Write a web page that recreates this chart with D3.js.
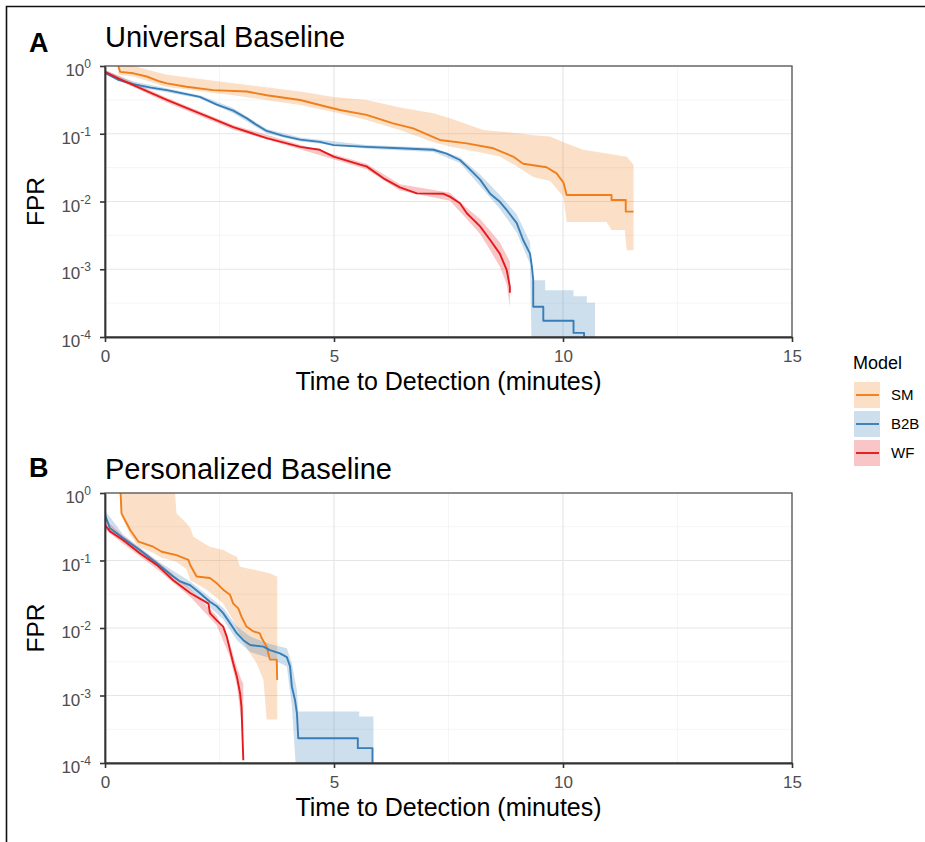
<!DOCTYPE html>
<html><head><meta charset="utf-8">
<script src="https://cdn.jsdelivr.net/npm/d3@7"></script>
<style>body{margin:0;background:#fff}svg{display:block}text{font-family:"Liberation Sans",Arial,Helvetica,sans-serif}</style>
</head><body><svg id="c" width="925" height="842"></svg>
<script>
// ---------- data ----------
const xTicks = [0, 5, 10, 15];
const xMinor = [2.5, 7.5, 12.5];
const yTicks = [1, 0.1, 0.01, 0.001, 0.0001];
const yExps = ["0", "-1", "-2", "-3", "-4"];
const yMinor = [0.316, 0.0316, 0.00316, 0.000316];
const models = ["SM", "B2B", "WF"];
const colors = ["#F07F1A", "#377EB8", "#E41A1C"];
const panelLabels = ["A", "B"];
const panelTitles = ["Universal Baseline", "Personalized Baseline"];
const xTitle = "Time to Detection (minutes)";
const yTitle = "FPR";
const legendTitle = "Model";

// Panel A — SM
const aSM_t = [0.29,0.33,0.62,0.91,1.20,1.35,1.78,2.36,3.09,3.53,4.26,4.84,5.13,5.71,6.29,6.73,7.31,7.90,8.48,8.91,9.13,9.64,9.86,10.01,10.08,11.06,11.06,11.37,11.37,11.54];
const aSM_v = [1.0,0.82,0.78,0.70,0.59,0.555,0.495,0.44,0.42,0.37,0.315,0.25,0.224,0.19,0.142,0.12,0.081,0.072,0.061,0.046,0.036,0.032,0.026,0.019,0.0125,0.0125,0.0105,0.0105,0.0071,0.0071];
const aSM_bt = [0.29,0.62,1.35,2.80,4.26,4.99,5.71,6.44,7.17,7.53,8.26,8.62,8.99,9.35,9.72,10.01,10.08,10.44,10.95,11.06,11.35,11.39,11.54];
const aSM_hi = [1,1,0.74,0.555,0.42,0.35,0.315,0.245,0.20,0.17,0.114,0.108,0.102,0.095,0.091,0.075,0.072,0.058,0.051,0.05,0.046,0.046,0.035];
const aSM_lo = [0.75,0.70,0.49,0.37,0.265,0.21,0.16,0.114,0.075,0.065,0.052,0.046,0.033,0.023,0.02,0.0118,0.005,0.005,0.005,0.0038,0.0038,0.0019,0.0019];
// Panel A — B2B
const aB2B_t = [0,0.30,0.62,1.00,1.35,2.07,2.44,2.80,3.09,3.31,3.53,3.89,4.26,4.69,4.99,5.71,6.44,7.17,7.46,7.75,7.90,8.19,8.41,8.62,8.77,8.99,9.13,9.28,9.32,9.35,9.35,9.57,9.57,10.23,10.23,10.46,10.46];
const aB2B_v = [0.80,0.62,0.54,0.48,0.44,0.35,0.27,0.22,0.17,0.135,0.11,0.093,0.082,0.076,0.068,0.064,0.061,0.058,0.051,0.041,0.033,0.021,0.013,0.0099,0.0075,0.0048,0.0027,0.0017,0.0011,0.00069,0.00028,0.00028,0.000174,0.000174,0.000115,0.000115,0.00009];
const aB2B_bt = [0,0.62,1.35,2.07,2.80,3.53,4.26,5.71,7.17,7.75,8.19,8.62,8.99,9.28,9.32,9.61,9.61,10.23,10.23,10.52,10.52,10.70];
const aB2B_hi = [0.86,0.59,0.47,0.37,0.24,0.118,0.088,0.068,0.062,0.045,0.025,0.0125,0.0065,0.0025,0.00069,0.00069,0.00049,0.00049,0.0004,0.0004,0.00032,0.00032];
const aB2B_lo = [0.75,0.50,0.41,0.33,0.20,0.101,0.077,0.06,0.054,0.037,0.017,0.0078,0.0035,0.0012,0.00005,0.00005,0.00005,0.00005,0.00005,0.00005,0.00005,0.00005];
// Panel A — WF
const aWF_t = [0,0.30,0.62,1.00,1.35,2.07,2.80,3.24,3.53,3.97,4.26,4.69,4.99,5.57,5.71,6.08,6.44,6.81,7.39,7.53,7.75,7.90,8.19,8.41,8.62,8.77,8.84,8.84];
const aWF_v = [0.82,0.65,0.52,0.40,0.315,0.20,0.125,0.10,0.086,0.072,0.064,0.058,0.046,0.035,0.033,0.022,0.0162,0.0132,0.0130,0.0118,0.0094,0.0067,0.0043,0.0027,0.0017,0.00098,0.00055,0.00045];
const aWF_bt = [0,1.35,2.80,4.26,5.71,6.44,7.53,7.90,8.19,8.41,8.62,8.77,8.84];
const aWF_hi = [0.88,0.34,0.135,0.069,0.036,0.018,0.0135,0.008,0.0055,0.0037,0.0025,0.0016,0.0013];
const aWF_lo = [0.76,0.29,0.115,0.059,0.030,0.0145,0.0103,0.0055,0.0033,0.0019,0.0011,0.0006,0.00028];

// Panel B — SM
const bSM_t = [0.34,0.36,0.55,0.73,1.05,1.24,1.56,1.82,1.86,2.00,2.29,2.44,2.58,2.73,2.80,2.91,2.98,3.09,3.24,3.38,3.42,3.53,3.60,3.75,3.76];
const bSM_v = [1.0,0.50,0.283,0.19,0.16,0.135,0.12,0.102,0.086,0.058,0.055,0.046,0.037,0.031,0.023,0.0195,0.0147,0.0105,0.0089,0.0083,0.0071,0.0053,0.0034,0.0034,0.0017];
const bSM_bt = [0.34,0.36,0.55,0.73,1.05,1.24,1.53,1.56,1.78,1.86,1.93,2.22,2.29,2.58,2.80,2.88,2.95,3.17,3.31,3.46,3.53,3.60,3.75,3.76];
const bSM_hi = [1,1,1,1,1,1,1,0.50,0.355,0.30,0.225,0.17,0.16,0.143,0.12,0.114,0.081,0.075,0.072,0.068,0.066,0.065,0.058,0.058];
const bSM_lo = [0.9,0.45,0.24,0.16,0.13,0.11,0.097,0.095,0.075,0.051,0.048,0.037,0.034,0.023,0.013,0.010,0.0074,0.0042,0.003,0.0017,0.00044,0.00044,0.00044,0.00044];
// Panel B — B2B
const bB2B_t = [0,0.11,0.40,0.76,1.13,1.49,1.64,1.86,2.07,2.29,2.44,2.58,2.73,2.88,3.02,3.17,3.46,3.60,3.82,3.97,4.04,4.08,4.15,4.19,4.22,5.52,5.52,5.84,5.84];
const bB2B_v = [0.47,0.30,0.213,0.143,0.091,0.058,0.049,0.043,0.033,0.0245,0.021,0.0166,0.0118,0.0083,0.0066,0.0056,0.0053,0.0047,0.0042,0.0037,0.0027,0.00135,0.00085,0.00055,0.000233,0.000233,0.000166,0.000166,0.00009];
const bB2B_bt = [0,0.40,1.13,1.86,2.58,2.88,3.17,3.60,3.97,4.08,4.19,4.22,5.55,5.55,5.86];
const bB2B_hi = [0.55,0.24,0.10,0.049,0.020,0.0105,0.0075,0.0058,0.0050,0.0030,0.0012,0.00058,0.00058,0.00049,0.00049];
const bB2B_lo = [0.40,0.19,0.082,0.037,0.0135,0.0066,0.0044,0.0036,0.0027,0.0007,0.00005,0.00005,0.00005,0.00005,0.00005];
// Panel B — WF
const bWF_t = [0,0.11,0.40,0.76,1.13,1.49,1.86,2.26,2.29,2.44,2.58,2.66,2.73,2.80,2.88,2.95,2.98,3.02];
const bWF_v = [0.336,0.27,0.20,0.128,0.086,0.051,0.033,0.023,0.0166,0.013,0.0105,0.0074,0.0047,0.003,0.0019,0.00107,0.00068,0.00011];
const bWF_bt = [0,0.40,1.13,1.86,2.44,2.73,2.88,2.98,3.02];
const bWF_hi = [0.40,0.23,0.098,0.038,0.015,0.0058,0.0026,0.0017,0.0015];
const bWF_lo = [0.29,0.175,0.075,0.029,0.011,0.0037,0.0014,0.0004,0.0003];

// ---------- build ----------
const zip = (t, v) => t.map((d, i) => [d, v[i]]);
const zip3 = (t, lo, hi) => t.map((d, i) => [d, lo[i], hi[i]]);
const panels = [
  {top: 66, bottom: 337, series: [
    {line: zip(aSM_t, aSM_v), band: zip3(aSM_bt, aSM_lo, aSM_hi)},
    {line: zip(aB2B_t, aB2B_v), band: zip3(aB2B_bt, aB2B_lo, aB2B_hi)},
    {line: zip(aWF_t, aWF_v), band: zip3(aWF_bt, aWF_lo, aWF_hi)}]},
  {top: 493, bottom: 763, series: [
    {line: zip(bSM_t, bSM_v), band: zip3(bSM_bt, bSM_lo, bSM_hi)},
    {line: zip(bB2B_t, bB2B_v), band: zip3(bB2B_bt, bB2B_lo, bB2B_hi)},
    {line: zip(bWF_t, bWF_v), band: zip3(bWF_bt, bWF_lo, bWF_hi)}]}
];

const svg = d3.select("#c");
svg.append("rect").attr("width", 925).attr("height", 842).attr("fill", "#fff");
svg.append("path").attr("d", "M6.5,842V6.5H925").attr("fill", "none").attr("stroke", "#111").attr("stroke-width", 1.6);

const L = 105, R = 792;
const x = d3.scaleLinear().domain([0, 15]).range([L, R]);

panels.forEach((p, pi) => {
  const y = d3.scaleLog().domain([1e-4, 1]).range([p.bottom, p.top]);
  const g = svg.append("g");
  const cid = "clip" + pi;
  svg.append("clipPath").attr("id", cid).append("rect")
    .attr("x", L).attr("y", p.top).attr("width", R - L).attr("height", p.bottom - p.top);

  // grid
  g.selectAll(".gxm").data(xMinor).join("line").attr("x1", d => x(d)).attr("x2", d => x(d))
    .attr("y1", p.top).attr("y2", p.bottom).attr("stroke", "#f2f2f2").attr("stroke-width", 0.8);
  g.selectAll(".gym").data(yMinor).join("line").attr("y1", d => y(d)).attr("y2", d => y(d))
    .attr("x1", L).attr("x2", R).attr("stroke", "#f2f2f2").attr("stroke-width", 0.8);
  g.selectAll(".gx").data(xTicks).join("line").attr("x1", d => x(d)).attr("x2", d => x(d))
    .attr("y1", p.top).attr("y2", p.bottom).attr("stroke", "#e6e6e6").attr("stroke-width", 1.2);
  g.selectAll(".gy").data(yTicks).join("line").attr("y1", d => y(d)).attr("y2", d => y(d))
    .attr("x1", L).attr("x2", R).attr("stroke", "#e6e6e6").attr("stroke-width", 1.2);

  const plot = g.append("g").attr("clip-path", `url(#${cid})`);
  const area = d3.area().x(d => x(d[0])).y0(d => y(d[1])).y1(d => y(d[2])).curve(d3.curveLinear);
  const line = d3.line().x(d => x(d[0])).y(d => y(d[1])).curve(d3.curveLinear);
  p.series.forEach((s, i) => {
    plot.append("path").attr("d", area(s.band)).attr("fill", colors[i]).attr("fill-opacity", 0.25);
  });
  p.series.forEach((s, i) => {
    plot.append("path").attr("d", line(s.line)).attr("fill", "none").attr("stroke", colors[i])
      .attr("stroke-width", 1.9).attr("stroke-linejoin", "round");
  });

  // border
  g.append("rect").attr("x", L).attr("y", p.top).attr("width", R - L).attr("height", p.bottom - p.top)
    .attr("fill", "none").attr("stroke", "#555").attr("stroke-width", 1.3);

  // x axis
  const xa = g.append("g").attr("transform", `translate(0,${p.bottom})`)
    .call(d3.axisBottom(x).tickValues(xTicks).tickSize(5).tickSizeOuter(0).tickPadding(8).tickFormat(d3.format("d")));
  xa.select(".domain").attr("stroke", "#333").attr("stroke-width", 1.8);
  xa.selectAll(".tick line").attr("stroke", "#333").attr("stroke-width", 1.6);
  xa.selectAll(".tick text").attr("fill", "#4d4d4d").attr("font-size", 17)
    .attr("font-family", '"Liberation Sans",Arial,sans-serif');

  // y axis
  const ya = g.append("g").attr("transform", `translate(${L},0)`)
    .call(d3.axisLeft(y).tickValues(yTicks).tickSize(5).tickSizeOuter(0).tickFormat(""));
  ya.select(".domain").attr("stroke", "#333").attr("stroke-width", 1.8);
  ya.selectAll(".tick line").attr("stroke", "#333").attr("stroke-width", 1.6);
  yTicks.forEach((v, k) => {
    const t = g.append("text").attr("x", 91).attr("y", y(v) + 10).attr("text-anchor", "end")
      .attr("fill", "#4d4d4d").attr("font-size", 17);
    t.append("tspan").text("10");
    t.append("tspan").attr("dy", -8).attr("font-size", 12).text(yExps[k]);
  });

  // titles
  svg.append("text").attr("x", 29).attr("y", pi === 0 ? 52 : 477).attr("font-weight", "bold")
    .attr("font-size", 27).attr("fill", "#000").text(panelLabels[pi]);
  svg.append("text").attr("x", 105).attr("y", pi === 0 ? 47 : 479)
    .attr("font-size", 29).attr("fill", "#000").text(panelTitles[pi]);
  svg.append("text").attr("x", (L + R) / 2).attr("y", p.bottom + 53).attr("text-anchor", "middle")
    .attr("font-size", 25).attr("fill", "#000").text(xTitle);
  svg.append("text").attr("transform", `translate(44,${(p.top + p.bottom) / 2}) rotate(-90)`)
    .attr("text-anchor", "middle").attr("font-size", 24.5).attr("fill", "#000").text(yTitle);
});

// legend
const lg = svg.append("g");
lg.append("text").attr("x", 853).attr("y", 369).attr("font-size", 18).attr("fill", "#000").text(legendTitle);
models.forEach((m, i) => {
  const ky = 382 + i * 29;
  lg.append("rect").attr("x", 854).attr("y", ky).attr("width", 26).attr("height", 26)
    .attr("fill", colors[i]).attr("fill-opacity", 0.25);
  lg.append("line").attr("x1", 856).attr("x2", 879).attr("y1", ky + 13).attr("y2", ky + 13)
    .attr("stroke", colors[i]).attr("stroke-width", 1.9);
  lg.append("text").attr("x", 891).attr("y", ky + 18).attr("font-size", 15).attr("fill", "#000").text(m);
});
</script>
</body></html>
